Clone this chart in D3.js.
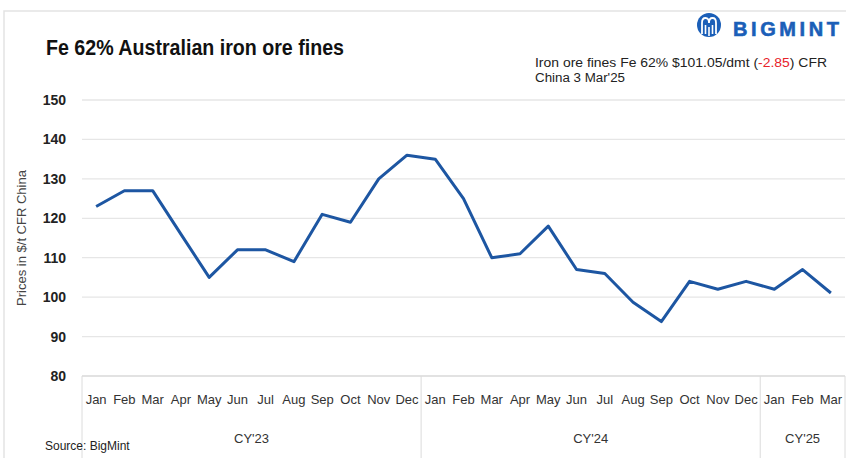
<!DOCTYPE html>
<html>
<head>
<meta charset="utf-8">
<script src="https://cdn.jsdelivr.net/npm/d3@7/dist/d3.min.js"></script>
<style>
  html, body { margin: 0; padding: 0; background: #fff; }
  svg { display: block; }
  text { font-family: "Liberation Sans", Arial, sans-serif; }
</style>
</head>
<body>
<svg id="chart" width="846" height="458"></svg>
<script>
const months = ["Jan","Feb","Mar","Apr","May","Jun","Jul","Aug","Sep","Oct","Nov","Dec",
                "Jan","Feb","Mar","Apr","May","Jun","Jul","Aug","Sep","Oct","Nov","Dec",
                "Jan","Feb","Mar"];
const years = ["CY'23","CY'24","CY'25"];
const yearLengths = [12, 12, 3];
const prices = [123, 127, 127, 116, 105, 112, 112, 109, 121, 119, 130, 136,
                135, 125, 110, 111, 118, 107, 106, 98.7, 93.8, 104, 102, 104,
                102, 107, 101.05];
const yTicks = [80, 90, 100, 110, 120, 130, 140, 150];

const svg = d3.select("#chart");
const keys = months.map((m, i) => i);

const x = d3.scaleBand().domain(keys).range([82, 845]).padding(0);
const y = d3.scaleLinear().domain([80, 150]).range([376, 100]);

// frame
svg.append("path").attr("d", "M4,458 L4,11 L846,11")
  .attr("fill", "none").attr("stroke", "#e3e3e3").attr("stroke-width", 1.5);

// gridlines
svg.append("g").selectAll("line").data(yTicks.filter(t => t !== 80)).join("line")
  .attr("x1", 82).attr("x2", 845)
  .attr("y1", d => y(d)).attr("y2", d => y(d))
  .attr("stroke", "#e6e6e6").attr("stroke-width", 1.3);

// bottom axis line
svg.append("line").attr("x1", 82).attr("x2", 845)
  .attr("y1", y(80)).attr("y2", y(80))
  .attr("stroke", "#d9d9d9").attr("stroke-width", 1.3);

// y tick labels
svg.append("g").selectAll("text").data(yTicks).join("text")
  .attr("x", 66).attr("y", d => y(d) + 5)
  .attr("text-anchor", "end")
  .attr("font-size", "14px").attr("font-weight", "bold").attr("fill", "#222")
  .text(d => d);

// y axis title
svg.append("text")
  .attr("transform", "translate(26,238) rotate(-90)")
  .attr("text-anchor", "middle")
  .attr("font-size", "13px").attr("fill", "#444")
  .text("Prices in $/t CFR China");

// year separators
let cum = 0;
const sepIdx = [0];
yearLengths.forEach(l => { cum += l; sepIdx.push(cum); });
svg.append("g").selectAll("line").data(sepIdx).join("line")
  .attr("x1", d => d < keys.length ? x(d) : x(keys.length - 1) + x.bandwidth())
  .attr("x2", d => d < keys.length ? x(d) : x(keys.length - 1) + x.bandwidth())
  .attr("y1", y(80)).attr("y2", 458)
  .attr("stroke", "#dcdcdc").attr("stroke-width", 1);

// month labels
svg.append("g").selectAll("text").data(months).join("text")
  .attr("x", (d, i) => x(i) + x.bandwidth() / 2)
  .attr("y", 404)
  .attr("text-anchor", "middle")
  .attr("font-size", "13px").attr("fill", "#333")
  .text(d => d);

// year labels
let start = 0;
const yearPos = yearLengths.map(l => { const s = start; start += l; return [s, start]; });
svg.append("g").selectAll("text").data(years).join("text")
  .attr("x", (d, i) => (x(yearPos[i][0]) + x(yearPos[i][1] - 1) + x.bandwidth()) / 2)
  .attr("y", 443)
  .attr("text-anchor", "middle")
  .attr("font-size", "13px").attr("fill", "#333")
  .text(d => d);

// line
const line = d3.line().x((d, i) => x(i) + x.bandwidth() / 2).y(d => y(d));
svg.append("path").datum(prices)
  .attr("d", line)
  .attr("fill", "none").attr("stroke", "#1d56a2").attr("stroke-width", 3)
  .attr("stroke-linejoin", "round");

// title
svg.append("text").attr("x", 46).attr("y", 55)
  .attr("font-size", "22px").attr("font-weight", "bold").attr("fill", "#111")
  .attr("textLength", 298).attr("lengthAdjust", "spacingAndGlyphs")
  .text("Fe 62% Australian iron ore fines");

// annotation
const ann = svg.append("text").attr("x", 535).attr("y", 67)
  .attr("font-size", "12.5px").attr("fill", "#222")
  .attr("textLength", 292).attr("lengthAdjust", "spacingAndGlyphs");
ann.append("tspan").text("Iron ore fines Fe 62%  $101.05/dmt  (");
ann.append("tspan").attr("fill", "#e8232a").text("-2.85");
ann.append("tspan").text(") CFR");
svg.append("text").attr("x", 535).attr("y", 82)
  .attr("font-size", "12.5px").attr("fill", "#222")
  .attr("textLength", 90).attr("lengthAdjust", "spacingAndGlyphs")
  .text("China 3 Mar'25");

// source
svg.append("text").attr("x", 45).attr("y", 450)
  .attr("font-size", "12px").attr("fill", "#222")
  .text("Source: BigMint");

// logo
const logo = svg.append("g").attr("transform", "translate(709,25)");
logo.append("circle").attr("r", 12).attr("fill", "#1b5fb8");
logo.append("path")
  .attr("d", "M-7,9 L-7,-2 Q-7,-7 -3.5,-7 Q0,-7 0,-2 Q0,-7 3.5,-7 Q7,-7 7,-2 L7,9")
  .attr("fill", "none").attr("stroke", "#fff").attr("stroke-width", 1.8);
logo.append("path").attr("d", "M-3.5,9 L-3.5,0 M3.5,9 L3.5,0 M0,2 L0,11")
  .attr("fill", "none").attr("stroke", "#fff").attr("stroke-width", 1.6);
svg.append("text").attr("x", 733).attr("y", 36)
  .attr("font-size", "20px").attr("font-weight", "900").attr("fill", "#1b5fb8")
  .attr("stroke", "#1b5fb8").attr("stroke-width", 0.6)
  .attr("textLength", 106).attr("lengthAdjust", "spacing")
  .text("BIGMINT");
</script>
</body>
</html>
